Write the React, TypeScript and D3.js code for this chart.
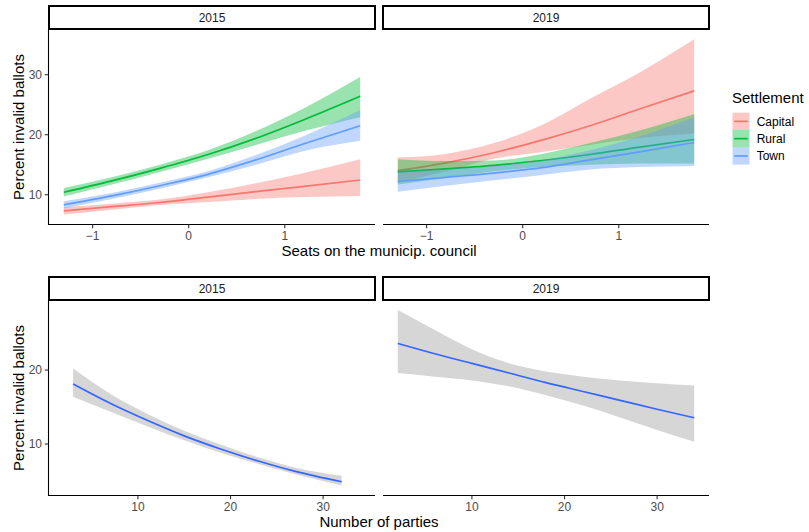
import React from "react";
import * as d3 from "d3";

const W = 809;
const H = 532;
const FONT = "'Liberation Sans', Arial, Helvetica, sans-serif";

const settlements = ["Capital", "Rural", "Town"];
const settlementColors = ["#F8766D", "#00BA38", "#619CFF"];
const years = ["2015", "2019"];

// seats on the municipal council (standardised) -> predicted % invalid ballots
const seatsX = [-1.3, -0.8, -0.3, 0.2, 0.7, 1.2, 1.785];

// order: Capital, Rural, Town
const fit2015 = [
  [7.3, 8.0, 8.7, 9.6, 10.5, 11.4, 12.45],
  [10.4, 12.3, 14.4, 16.7, 19.4, 22.5, 26.4],
  [8.3, 9.8, 11.5, 13.4, 15.8, 18.5, 21.5],
];
const lo2015 = [
  [6.7, 7.5, 8.3, 8.8, 9.3, 9.6, 9.8],
  [9.7, 11.7, 13.8, 16.0, 18.3, 20.6, 22.9],
  [7.7, 9.3, 11.0, 12.9, 15.0, 17.3, 19.0],
];
const hi2015 = [
  [7.9, 8.5, 9.2, 10.4, 11.9, 13.6, 15.9],
  [11.1, 12.9, 15.0, 17.4, 20.6, 24.4, 29.6],
  [8.9, 10.3, 12.0, 13.9, 16.6, 19.8, 24.1],
];

const fit2019 = [
  [14.0, 15.3, 17.0, 19.1, 21.5, 24.2, 27.3],
  [13.8, 14.3, 14.9, 15.7, 16.7, 17.9, 19.2],
  [12.2, 12.9, 13.6, 14.5, 15.8, 17.1, 18.7],
];
const lo2019 = [
  [12.0, 13.9, 16.0, 17.1, 18.3, 19.4, 20.2],
  [11.7, 12.8, 13.9, 14.6, 15.0, 15.2, 15.2],
  [10.5, 11.5, 12.4, 13.3, 14.2, 14.6, 14.8],
];
const hi2019 = [
  [16.2, 16.8, 18.6, 21.6, 26.0, 30.2, 35.9],
  [15.9, 15.6, 15.7, 16.8, 18.6, 20.6, 23.45],
  [13.9, 14.3, 14.8, 15.7, 17.4, 19.6, 22.9],
];

// number of parties -> predicted % invalid ballots
const parties2015X = [3, 7, 11, 15, 19, 23, 27, 32];
const parties2015Fit = [18.1, 15.5, 13.2, 11.1, 9.3, 7.7, 6.3, 4.9];
const parties2015Lo = [16.4, 14.4, 12.4, 10.5, 8.8, 7.3, 5.9, 4.4];
const parties2015Hi = [20.2, 16.8, 14.1, 11.8, 9.9, 8.2, 6.8, 5.7];

const parties2019X = [2, 6, 10, 14, 18, 22, 26, 30, 34];
const parties2019Fit = [23.6, 22.2, 20.9, 19.6, 18.3, 17.1, 15.9, 14.7, 13.55];
const parties2019Lo = [19.6, 19.1, 18.6, 17.8, 16.6, 15.2, 13.6, 11.9, 10.3];
const parties2019Hi = [28.1, 25.4, 22.8, 20.9, 19.8, 19.1, 18.6, 18.2, 17.9];

const seatTicks = [-1, 0, 1];
const seatPctTicks = [10, 20, 30];
const partyTicks = [10, 20, 30];
const partyPctTicks = [10, 20];

const fmt = (d: number) => (d < 0 ? "\u2212" + Math.abs(d) : String(d));

type Layer = { xs: number[]; fit: number[]; lo: number[]; hi: number[]; line: string; fill: string };

function Panel({ left, right, top, bottom, xDomain, yDomain, xTicks, yTicks, showY, label, layers }: any) {
  const x = d3.scaleLinear().domain(xDomain).range([left, right]);
  const y = d3.scaleLinear().domain(yDomain).range([bottom, top]);

  return (
    <g>
      {layers.map((l: Layer, k: number) => {
        const idx = d3.range(l.xs.length);
        const ribbon = d3
          .area<number>()
          .x((i) => x(l.xs[i]))
          .y0((i) => y(l.lo[i]))
          .y1((i) => y(l.hi[i]))
          .curve(d3.curveMonotoneX)(idx);
        const line = d3
          .line<number>()
          .x((i) => x(l.xs[i]))
          .y((i) => y(l.fit[i]))
          .curve(d3.curveMonotoneX)(idx);
        return (
          <g key={k}>
            <path d={ribbon || ""} fill={l.fill} fillOpacity={0.4} />
            <path d={line || ""} fill="none" stroke={l.line} strokeWidth={1.7} />
          </g>
        );
      })}
      {/* strip */}
      <rect x={left} y={top - 24} width={right - left} height={23} fill="#fff" stroke="#000" strokeWidth={2} />
      <text x={(left + right) / 2} y={top - 8} textAnchor="middle" fontSize={12} fill="#1A1A1A">
        {label}
      </text>
      {/* x axis */}
      <line x1={left} x2={right} y1={bottom + 0.5} y2={bottom + 0.5} stroke="#000" strokeWidth={1.1} />
      {xTicks.map((t: number) => (
        <g key={t}>
          <line x1={x(t)} x2={x(t)} y1={bottom + 0.5} y2={bottom + 4.2} stroke="#333" strokeWidth={1.1} />
          <text x={x(t)} y={bottom + 16} textAnchor="middle" fontSize={12} fill="#4D4D4D">
            {fmt(t)}
          </text>
        </g>
      ))}
      {showY && (
        <g>
          <line x1={left - 0.5} x2={left - 0.5} y1={top} y2={bottom + 1} stroke="#000" strokeWidth={1.1} />
          {yTicks.map((t: number) => (
            <g key={t}>
              <line x1={left - 4.2} x2={left - 0.5} y1={y(t)} y2={y(t)} stroke="#333" strokeWidth={1.1} />
              <text x={left - 7} y={y(t) + 4.3} textAnchor="end" fontSize={12} fill="#4D4D4D">
                {fmt(t)}
              </text>
            </g>
          ))}
        </g>
      )}
    </g>
  );
}

export default function App() {
  const panelX = [
    [49, 375],
    [383, 709],
  ];
  const seatDomain = [-1.454, 1.939];
  const partyDomain = [0.4, 35.6];
  const topY = [5.12, 37.45];
  const botY = [3.11, 29.33];

  const seatLayers = [
    [fit2015, lo2015, hi2015],
    [fit2019, lo2019, hi2019],
  ].map(([fit, lo, hi]) =>
    settlements.map((_, s) => ({
      xs: seatsX,
      fit: fit[s],
      lo: lo[s],
      hi: hi[s],
      line: settlementColors[s],
      fill: settlementColors[s],
    }))
  );

  const partyLayers = [
    [{ xs: parties2015X, fit: parties2015Fit, lo: parties2015Lo, hi: parties2015Hi, line: "#3366FF", fill: "#999999" }],
    [{ xs: parties2019X, fit: parties2019Fit, lo: parties2019Lo, hi: parties2019Hi, line: "#3366FF", fill: "#999999" }],
  ];

  return (
    <svg
      width={W}
      height={H}
      style={{ position: "absolute", left: 0, top: 0, background: "#fff" }}
      fontFamily={FONT}
    >
      <rect width={W} height={H} fill="#fff" />
      {years.map((yr, i) => (
        <Panel
          key={"s" + yr}
          left={panelX[i][0]}
          right={panelX[i][1]}
          top={30}
          bottom={224}
          xDomain={seatDomain}
          yDomain={topY}
          xTicks={seatTicks}
          yTicks={seatPctTicks}
          showY={i === 0}
          label={yr}
          layers={seatLayers[i]}
        />
      ))}
      {years.map((yr, i) => (
        <Panel
          key={"p" + yr}
          left={panelX[i][0]}
          right={panelX[i][1]}
          top={301}
          bottom={495}
          xDomain={partyDomain}
          yDomain={botY}
          xTicks={partyTicks}
          yTicks={partyPctTicks}
          showY={i === 0}
          label={yr}
          layers={partyLayers[i]}
        />
      ))}

      {/* axis titles */}
      <text x={379} y={256} textAnchor="middle" fontSize={15} fill="#000">
        Seats on the municip. council
      </text>
      <text x={379} y={527} textAnchor="middle" fontSize={15} fill="#000">
        Number of parties
      </text>
      <text transform="translate(23.5,127) rotate(-90)" textAnchor="middle" fontSize={15} fill="#000">
        Percent invalid ballots
      </text>
      <text transform="translate(23.5,398) rotate(-90)" textAnchor="middle" fontSize={15} fill="#000">
        Percent invalid ballots
      </text>

      {/* legend */}
      <text x={732} y={103} fontSize={15} fill="#000">
        Settlement
      </text>
      {settlements.map((s, i) => {
        const ky = 112.7 + i * 17.3;
        return (
          <g key={s}>
            <rect x={732.5} y={ky} width={17} height={17.3} fill={settlementColors[i]} fillOpacity={0.4} />
            <line x1={734.2} x2={747.8} y1={ky + 8.65} y2={ky + 8.65} stroke={settlementColors[i]} strokeWidth={1.7} />
            <text x={756.7} y={ky + 13} fontSize={12} fill="#000">
              {s}
            </text>
          </g>
        );
      })}
    </svg>
  );
}
